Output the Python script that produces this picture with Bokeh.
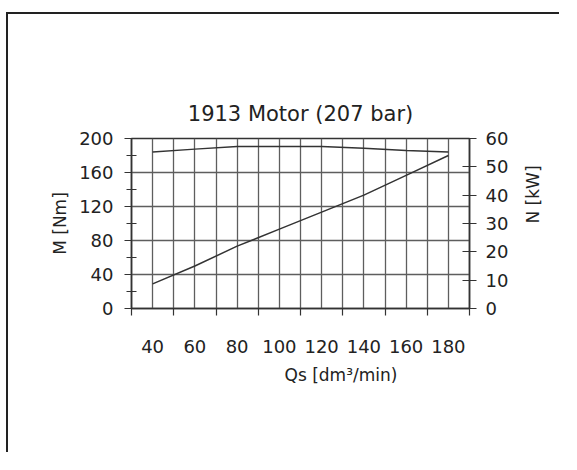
import math
from bokeh.plotting import figure
from bokeh.models import Range1d, LinearAxis, FixedTicker, Grid, Title
from bokeh.embed import file_html
from bokeh.resources import INLINE

# ---- data ----
flow = [40, 60, 80, 100, 120, 140, 160, 180]          # Qs [dm3/min]
torque = [184, 187.5, 190.5, 190.5, 190.5, 188.5, 186, 184]   # M [Nm]
power = [8.7, 15, 22, 28, 34, 40, 47, 54]              # N [kW]
x_labels = [40, 60, 80, 100, 120, 140, 160, 180]
x_ticks = [30, 50, 70, 90, 110, 130, 150, 170, 190]
x_grid = [40, 50, 60, 70, 80, 90, 100, 110, 120, 130, 140, 150, 160, 170, 180]
m_ticks = [0, 40, 80, 120, 160, 200]
m_minor = [20, 60, 100, 140, 180]
n_ticks = [0, 10, 20, 30, 40, 50, 60]

FONT = "DejaVu Sans"
TXT = "#222222"
LINE = "#333333"

p = figure(width=553, height=440, output_backend="svg", toolbar_location=None,
           x_range=Range1d(30, 190), y_range=Range1d(0, 200),
           x_axis_type=None, y_axis_type=None,
           min_border_left=123, min_border_right=92,
           min_border_top=124, min_border_bottom=146)
p.extra_y_ranges = {"N": Range1d(0, 60)}
p.outline_line_color = LINE
p.outline_line_width = 1.5
p.background_fill_color = "white"
p.border_fill_color = "white"

# grids
p.add_layout(Grid(dimension=0, ticker=FixedTicker(ticks=x_grid),
                  grid_line_color="#5e5e5e", grid_line_width=1.3))
p.add_layout(Grid(dimension=1, ticker=FixedTicker(ticks=m_ticks),
                  grid_line_color="#5e5e5e", grid_line_width=1.3))

def style(ax):
    ax.axis_line_color = LINE
    ax.axis_line_width = 1.5
    ax.major_tick_line_color = LINE
    ax.minor_tick_line_color = LINE
    ax.major_tick_line_width = 1.2
    ax.minor_tick_line_width = 1.2
    ax.major_label_text_font = FONT
    ax.major_label_text_font_size = "18px"
    ax.major_label_text_color = TXT
    ax.axis_label_text_font = FONT
    ax.axis_label_text_font_size = "17px"
    ax.axis_label_text_font_style = "normal"
    ax.axis_label_text_color = TXT

xb = LinearAxis(ticker=FixedTicker(ticks=x_labels, minor_ticks=x_ticks))
style(xb)
xb.major_tick_out = 0
xb.major_tick_in = 0
xb.minor_tick_out = 7
xb.minor_tick_in = 0
xb.major_label_standoff = 24
p.add_layout(xb, "below")

yl = LinearAxis(ticker=FixedTicker(ticks=m_ticks, minor_ticks=m_minor), axis_label="M [Nm]")
style(yl)
yl.major_tick_out = 7
yl.major_tick_in = 0
yl.minor_tick_out = 5
yl.minor_tick_in = 5
yl.major_label_standoff = 11
yl.axis_label_standoff = 6
p.add_layout(yl, "left")

yr = LinearAxis(y_range_name="N", ticker=FixedTicker(ticks=n_ticks, minor_ticks=[]),
                axis_label="N [kW]")
style(yr)
yr.major_tick_out = 7
yr.major_tick_in = 7
yr.major_label_standoff = 9
yr.axis_label_standoff = 22
try:
    yr.axis_label_orientation = math.pi / 2
except Exception:
    pass
p.add_layout(yr, "right")

# titles
p.add_layout(Title(text="1913 Motor (207 bar)", align="center", text_font=FONT,
                   text_font_size="21px", text_font_style="normal", text_color=TXT,
                   standoff=25), "above")
p.add_layout(Title(text="Qs [dm³/min)", align="left", offset=153, text_font=FONT,
                   text_font_size="17px", text_font_style="normal", text_color=TXT,
                   standoff=15), "below")

# curves
p.line(flow, torque, line_color=LINE, line_width=1.5)
p.line(flow, power, y_range_name="N", line_color=LINE, line_width=1.5)

# top/left frame lines of the original picture, drawn as an offset shadow
p.styles = {"box-shadow": "-2px -2px 0 0 #222222",
            "margin-top": "14px", "margin-left": "8px"}

open("out.html", "w").write(file_html(p, INLINE))
